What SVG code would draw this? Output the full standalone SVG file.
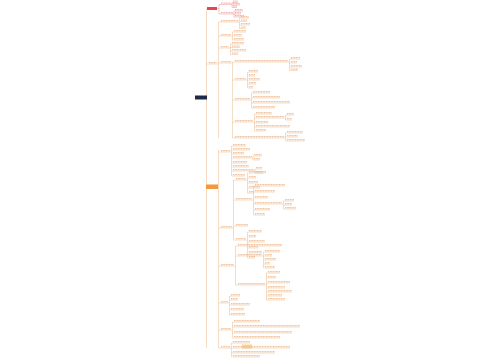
<svg xmlns="http://www.w3.org/2000/svg" width="500" height="360" viewBox="0 0 500 360">
<style>
.c{fill:none;stroke:#efc49c;stroke-width:.6}
.cr{fill:none;stroke:#f3a3a5;stroke-width:.6}
.u{fill:none;stroke:#e9b382;stroke-width:.45}
.t{fill:none;stroke:#f0c09a;stroke-width:1.3;stroke-dasharray:1.1 .5}
.ur{fill:none;stroke:#ef8a8c;stroke-width:.45}
.tr{fill:none;stroke:#f5aeb0;stroke-width:1.3;stroke-dasharray:1.1 .5}
</style>
<rect width="500" height="360" fill="#ffffff"/>
<g id="connectors">
<path class="c" d="M206.5 8.5V348"/>
<path class="cr" d="M217 8.5H219 M219 4.5V14 M219 4.5H221 M219 14H221 M231 4.5H232 M232 2.5V7.5 M232 2.5H233 M232 5H233 M232 7.5H233 M233 14H234 M234 11V17 M234 11H235 M234 14H235 M234 17H235"/>
<path class="c" d="M206.5 64H209 M217 64H218.5 M218.5 22V138 M218.5 22H221 M218.5 36H221 M218.5 48H221 M218.5 63H221
M238 22H239.5 M239.5 18V28.5 M239.5 18H241 M239.5 21.5H241 M239.5 25H241 M239.5 28.5H241
M231 36H232.5 M232.5 32V40 M232.5 32H234 M232.5 36H234 M232.5 40H234
M229 48H230.5 M230.5 44V54.5 M230.5 44H232 M230.5 47.5H232 M230.5 51H232 M230.5 54.5H232
M231 63H232.5 M232.5 62V138 M232.5 62H235 M232.5 80H235 M232.5 100H235 M232.5 122H235 M232.5 138H235
M288 62H289.5 M289.5 59V70.5 M289.5 59H291 M289.5 63H291 M289.5 67H291 M289.5 70.5H291
M246 80H247.5 M247.5 72V88 M247.5 72H249 M247.5 76H249 M247.5 80H249 M247.5 84H249 M247.5 88H249
M250 100H251.5 M251.5 93V108 M251.5 93H253 M251.5 98H253 M251.5 103H253 M251.5 108H253
M253 122H254.5 M254.5 114V131 M254.5 114H256 M254.5 118H256 M254.5 123H256 M254.5 127H256 M254.5 131H256 M284 118H285.5 M285.5 115V120 M285.5 115H287 M285.5 120H287
M284 138H285.5 M285.5 133V141 M285.5 133H287 M285.5 137H287 M285.5 141H287"/>
<path class="c" d="M218 187H218.5 M218.5 150V348 M218.5 152H221 M218.5 228H221 M218.5 266H221 M218.5 303H221 M218.5 330H221 M218.5 348H221
M230 152H231.5 M231.5 146V176 M231.5 146H233 M231.5 150H233 M231.5 154H233 M231.5 158H233 M231.5 163H233 M231.5 167H233 M231.5 171H233 M231.5 176H233
M252 158H253 M253 156V160 M253 156H254 M253 160H254 M254 171H255 M255 169V173 M255 169H256 M255 173H256
M232 228H233.5 M233.5 180V240 M233.5 180H236 M233.5 200H236 M233.5 226H236 M233.5 240H236
M246 180H247.5 M247.5 173V193 M247.5 173H249 M247.5 178H249 M247.5 183H249 M247.5 188H249 M247.5 193H249
M252 200H253.5 M253.5 186V215 M253.5 186H255 M253.5 192H255 M253.5 198H255 M253.5 204H255 M253.5 210H255 M253.5 215H255 M282 204H283.5 M283.5 201V209 M283.5 201H285 M283.5 205H285 M283.5 209H285
M246 240H247.5 M247.5 232V258 M247.5 232H249 M247.5 237H249 M247.5 242H249 M247.5 248H249 M247.5 253H249 M247.5 258H249
M234 266H235.5 M235.5 246V285 M235.5 246H238 M235.5 256H238 M235.5 285H238
M262 256H263.5 M263.5 252V268 M263.5 252H265 M263.5 256H265 M263.5 260H265 M263.5 264H265 M263.5 268H265
M265 285H266.5 M266.5 273V300 M266.5 273H268 M266.5 278H268 M266.5 283H268 M266.5 288H268 M266.5 292H268 M266.5 296H268 M266.5 300H268
M228 303H229.5 M229.5 296V315 M229.5 296H231 M229.5 300H231 M229.5 305H231 M229.5 310H231 M229.5 315H231
M231 330H232.5 M232.5 322V338 M232.5 322H234 M232.5 327H234 M232.5 333H234 M232.5 338H234
M230 348H231.5 M231.5 343V357 M231.5 343H233 M231.5 348H233 M231.5 353H233 M231.5 357H233"/>
</g>
<g id="root"><rect x="195" y="95.5" width="12" height="4" fill="#1e2a45"/></g>
<g id="branch-red">
<rect x="207" y="7" width="10" height="3" fill="#e5474b"/>
<g id="red-kids">
<path class="tr" d="M221 3.1H231 M221 12.6H233 M233 1.1H238 M233 3.6H240 M233 6.1H237 M235 9.6H243 M235 12.6H241 M235 15.6H244"/>
<path class="ur" d="M221 4.5H231 M221 14H233 M233 2.5H238 M233 5H240 M233 7.5H237 M235 11H243 M235 14H241 M235 17H244"/>
</g>
</g>
<g id="branch-b">
<path class="t" d="M209 62.6H217"/><path class="u" d="M209 64H217"/>
<g id="b1"><path class="t" d="M221 20.6H238 M241 16.6H249 M241 20.1H247 M241 23.6H250 M241 27.1H246"/><path class="u" d="M221 22H238 M241 18H249 M241 21.5H247 M241 25H250 M241 28.5H246"/></g>
<g id="b2"><path class="t" d="M221 34.6H231 M234 30.6H246 M234 34.6H242 M234 38.6H244"/><path class="u" d="M221 36H231 M234 32H246 M234 36H242 M234 40H244"/></g>
<g id="b3"><path class="t" d="M221 46.6H229 M232 42.6H244 M232 46.1H240 M232 49.6H246 M232 53.1H238"/><path class="u" d="M221 48H229 M232 44H244 M232 47.5H240 M232 51H246 M232 54.5H238"/></g>
<g id="b4"><path class="t" d="M221 61.6H231"/><path class="u" d="M221 63H231"/>
<g id="b4a"><path class="t" d="M235 60.6H288 M291 57.6H300 M291 61.6H297 M291 65.6H302 M291 69.1H298"/><path class="u" d="M235 62H288 M291 59H300 M291 63H297 M291 67H302 M291 70.5H298"/></g>
<g id="b4b"><path class="t" d="M235 78.6H246 M249 70.6H258 M249 74.6H255 M249 78.6H260 M249 82.6H256 M249 86.6H253"/><path class="u" d="M235 80H246 M249 72H258 M249 76H255 M249 80H260 M249 84H256 M249 88H253"/></g>
<g id="b4c"><path class="t" d="M235 98.6H250 M253 91.6H270 M253 96.6H280 M253 101.6H290 M253 106.6H275"/><path class="u" d="M235 100H250 M253 93H270 M253 98H280 M253 103H290 M253 108H275"/></g>
<g id="b4d"><path class="t" d="M235 120.6H253 M256 112.6H272 M256 116.6H284 M256 121.6H268 M256 125.6H290 M256 129.6H266 M287 113.6H294 M287 118.6H292"/><path class="u" d="M235 122H253 M256 114H272 M256 118H284 M256 123H268 M256 127H290 M256 131H266 M287 115H294 M287 120H292"/></g>
<g id="b4e"><path class="t" d="M235 136.6H284 M287 131.6H303 M287 135.6H298 M287 139.6H305"/><path class="u" d="M235 138H284 M287 133H303 M287 137H298 M287 141H305"/></g>
</g>
</g>
<g id="branch-orange">
<rect x="206" y="184.5" width="12" height="4.5" fill="#f29a3b"/>
<g id="c1"><path class="t" d="M221 150.6H230 M233 144.6H246 M233 148.6H250 M233 152.6H244 M233 156.6H252 M233 161.6H247 M233 165.6H249 M233 169.6H254 M233 174.6H245 M254 154.6H262 M254 158.6H260 M256 167.6H262 M256 171.6H263"/><path class="u" d="M221 152H230 M233 146H246 M233 150H250 M233 154H244 M233 158H252 M233 163H247 M233 167H249 M233 171H254 M233 176H245 M254 156H262 M254 160H260 M256 169H262 M256 173H263"/></g>
<g id="c2"><path class="t" d="M221 226.6H232"/><path class="u" d="M221 228H232"/>
<g id="c2a"><path class="t" d="M236 178.6H246 M249 171.6H266 M249 176.6H256 M249 181.6H258 M249 186.6H260 M249 191.6H254"/><path class="u" d="M236 180H246 M249 173H266 M249 178H256 M249 183H258 M249 188H260 M249 193H254"/></g>
<g id="c2b"><path class="t" d="M236 198.6H252 M255 184.6H285 M255 190.6H275 M255 196.6H268 M255 202.6H282 M255 208.6H270 M255 213.6H265 M285 199.6H294 M285 203.6H292 M285 207.6H296"/><path class="u" d="M236 200H252 M255 186H285 M255 192H275 M255 198H268 M255 204H282 M255 210H270 M255 215H265 M285 201H294 M285 205H292 M285 209H296"/></g>
<g id="c2c"><path class="t" d="M236 224.6H248"/><path class="u" d="M236 226H248"/></g>
<g id="c2d"><path class="t" d="M236 238.6H246 M249 230.6H262 M249 235.6H256 M249 240.6H265 M249 246.6H258 M249 251.6H262 M249 256.6H255"/><path class="u" d="M236 240H246 M249 232H262 M249 237H256 M249 242H265 M249 248H258 M249 253H262 M249 258H255"/></g>
</g>
<g id="c3"><path class="t" d="M221 264.6H234"/><path class="u" d="M221 266H234"/>
<g id="c3a"><path class="t" d="M238 244.6H282"/><path class="u" d="M238 246H282"/></g>
<g id="c3b"><path class="t" d="M238 254.6H262 M265 250.6H280 M265 254.6H272 M265 258.6H276 M265 262.6H270 M265 266.6H275"/><path class="u" d="M238 256H262 M265 252H280 M265 256H272 M265 260H276 M265 264H270 M265 268H275"/></g>
<g id="c3c"><path class="t" d="M238 283.6H265 M268 271.6H280 M268 276.6H276 M268 281.6H290 M268 286.6H285 M268 290.6H292 M268 294.6H282 M268 298.6H285"/><path class="u" d="M238 285H265 M268 273H280 M268 278H276 M268 283H290 M268 288H285 M268 292H292 M268 296H282 M268 300H285"/></g>
</g>
<g id="c4"><path class="t" d="M221 301.6H228 M231 294.6H240 M231 298.6H238 M231 303.6H250 M231 308.6H244 M231 313.6H245"/><path class="u" d="M221 303H228 M231 296H240 M231 300H238 M231 305H250 M231 310H244 M231 315H245"/></g>
<g id="c5"><path class="t" d="M221 328.6H231 M234 320.6H260 M234 325.6H300 M234 331.6H292 M234 336.6H280"/><path class="u" d="M221 330H231 M234 322H260 M234 327H300 M234 333H292 M234 338H280"/></g>
<g id="c6"><rect x="242" y="344.5" width="10" height="4" fill="#fbd38d"/><path class="t" d="M221 346.6H230 M233 341.6H250 M233 346.6H290 M233 351.6H275 M233 355.6H260"/><path class="u" d="M221 348H230 M233 343H250 M233 348H290 M233 353H275 M233 357H260"/></g>
</g>
</svg>
